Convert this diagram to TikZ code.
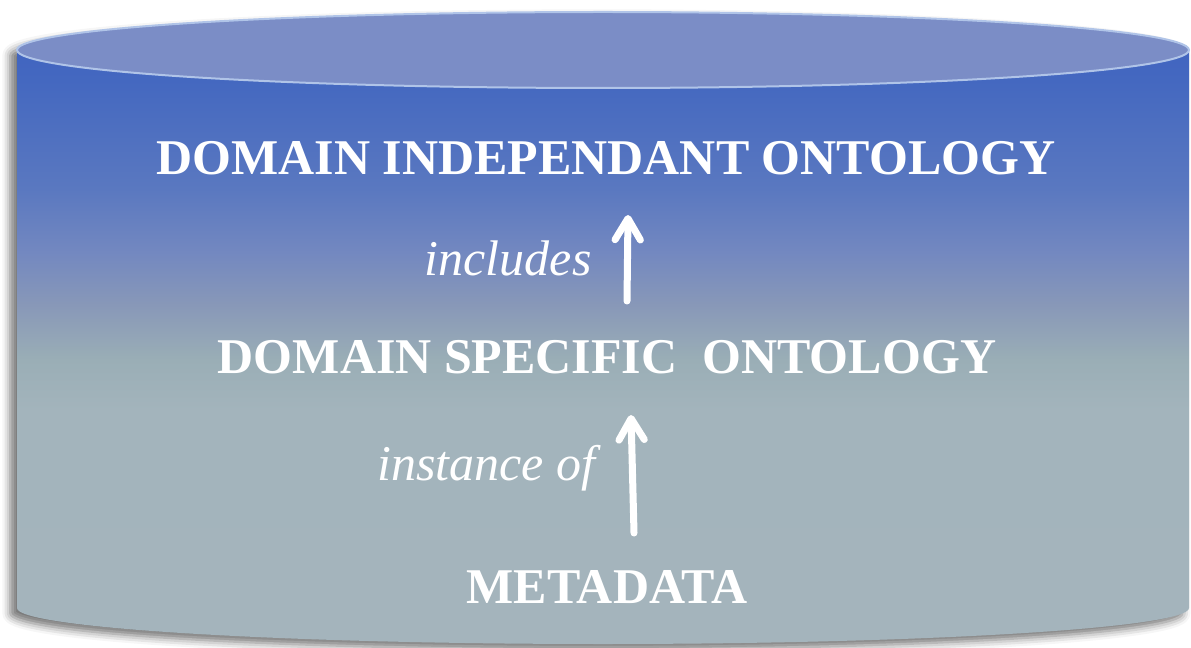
\documentclass[tikz,border=0pt]{standalone}
\usepackage{fontspec}
\setmainfont{Liberation Serif}
\usetikzlibrary{arrows.meta,shadows.blur}

\definecolor{lidfill}{RGB}{123,141,198}
\definecolor{lidrim}{RGB}{176,196,232}
\definecolor{textwhite}{RGB}{255,255,255}
\definecolor{cyltop}{RGB}{62,96,192}
\definecolor{cyl0}{RGB}{68,104,192}
\definecolor{cyl1}{RGB}{90,120,192}
\definecolor{cyl2}{RGB}{115,136,192}
\definecolor{cyl3}{RGB}{136,152,184}
\definecolor{cyl4}{RGB}{154,174,182}
\definecolor{cyl5}{RGB}{163,180,188}
\definecolor{cyl6}{RGB}{164,180,188}

\pgfdeclareverticalshading{cylbody}{100bp}{%
  color(0bp)=(cyl6);
  color(25bp)=(cyl6);
  color(43.5bp)=(cyl5);
  color(47.5bp)=(cyl4);
  color(51.8bp)=(cyl3);
  color(56bp)=(cyl2);
  color(61bp)=(cyl1);
  color(69.6bp)=(cyl0);
  color(75bp)=(cyltop);
  color(100bp)=(cyltop)}

\tikzset{every picture/.style={line width=0.75pt}}
\tikzset{
  headtext/.style={text=textwhite, font=\fontsize{37.5}{40}\selectfont\bfseries, inner sep=0pt},
  reltext/.style={text=textwhite, font=\fontsize{37.5}{40}\selectfont\itshape, inner sep=0pt},
  uparrow/.style={draw=textwhite, line width=5.25pt, line cap=round,
    -{Straight Barb[length=16pt,width=19pt,round]}}
}

\begin{document}
\begin{tikzpicture}[x=0.75pt,y=0.75pt,yscale=-1,xscale=1]
		\useasboundingbox (0,0) rectangle (1191,648);
		
		%Shape: Can body [id:cylbody]
		\shade [shading=cylbody, blur shadow={shadow xshift=-5pt, shadow yshift=-4pt, shadow blur radius=6pt, shadow opacity=55}]
		  (17,50) -- (17,608) arc[start angle=180, end angle=0, x radius=586, y radius=36]
		  -- (1189,50) arc[start angle=0, end angle=-180, x radius=586, y radius=38] -- cycle ;
		
		%Shape: Can lid [id:cyllid]
		\draw [color=lidrim, fill=lidfill, line width=1.5pt] (603,50) ellipse [x radius=586, y radius=38] ;
		
		
		% Text Node
		\node [headtext, anchor=base] (dio) at (606,175) {DOMAIN INDEPENDANT ONTOLOGY};
		% Text Node
		\node [headtext, anchor=base] (dso) at (607,373) {DOMAIN SPECIFIC\ \ ONTOLOGY};
		% Text Node
		\node [headtext, anchor=base] (meta) at (607,603) {METADATA};
		% Text Node
		\node [reltext, anchor=base east] (lblincl) at (592,276) {includes};
		% Text Node
		\node [reltext, anchor=base east] (lblinst) at (596,480) {instance of};
		
		
		%Straight Lines [id:inclarrow]
		\coordinate (inclfoot) at (627,301);
		\coordinate (incltip) at (628,215);
		\draw [uparrow] (inclfoot) -- (incltip) ;
		
		%Straight Lines [id:instarrow]
		\coordinate (instfoot) at (634,533);
		\coordinate (insttip) at (631,415);
		\draw [uparrow] (instfoot) -- (insttip) ;
		
\end{tikzpicture}
\end{document}
